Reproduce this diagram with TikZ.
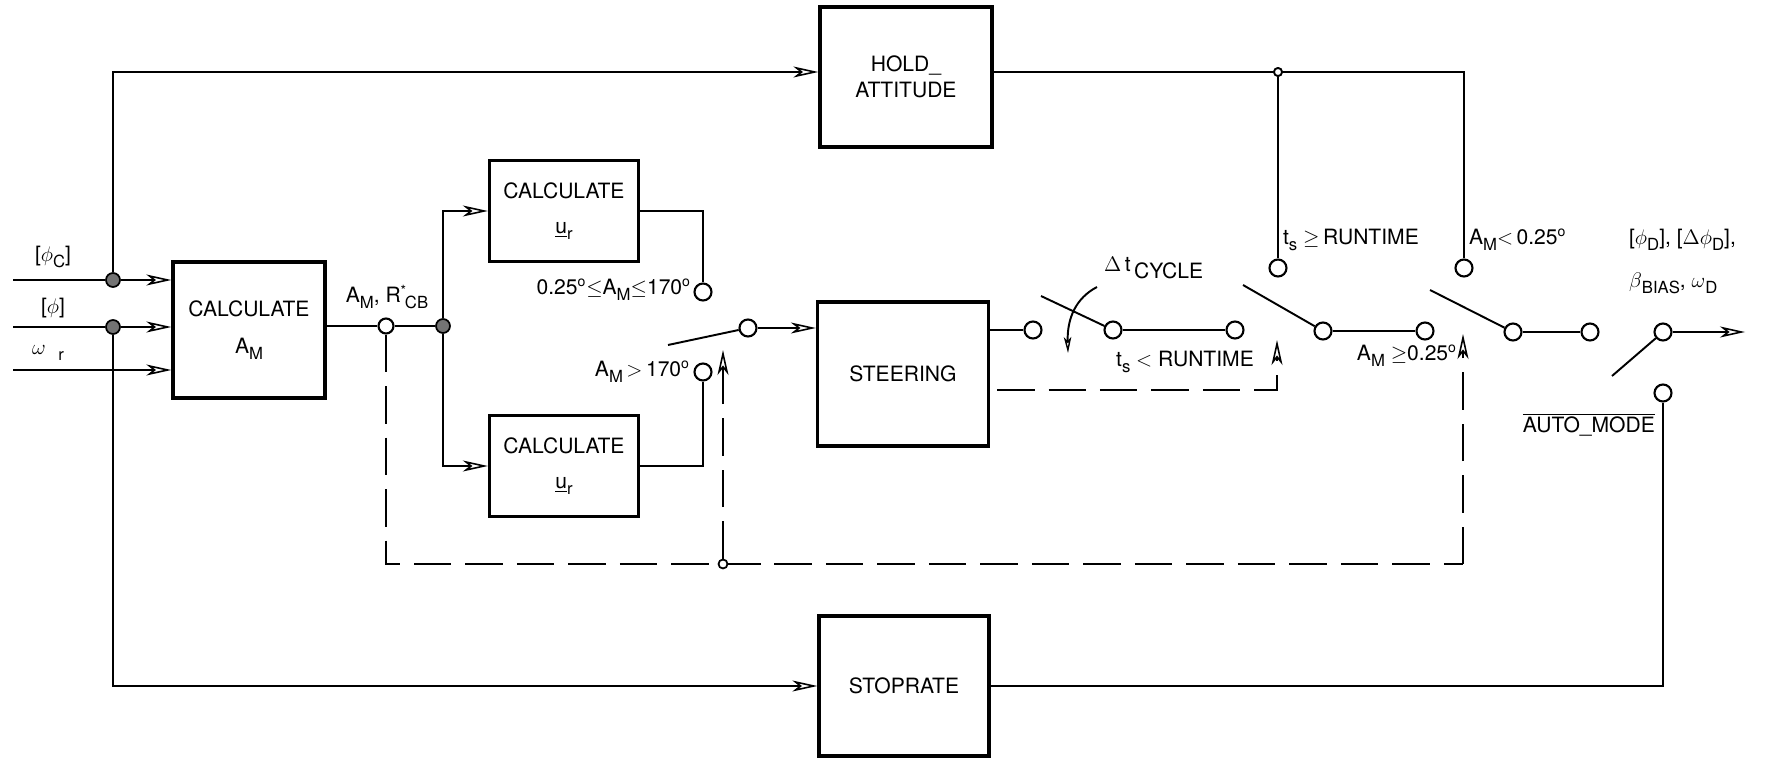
\documentclass[tikz,border=0pt]{standalone}
\usepackage{fontspec}
\setmainfont{TeX Gyre Heros}
\usetikzlibrary{arrows.meta}
\newcommand{\sbs}[1]{\raisebox{-0.55ex}{\fontsize{9.5}{10}\selectfont #1}}
\begin{document}
\begin{tikzpicture}[x=0.02cm, y=-0.02cm,
 blk/.style={draw, line width=1.9pt, align=center, inner sep=0pt, font=\fontsize{12}{15}\selectfont},
 ln/.style={line width=1.1pt},
 arr/.style={ln, -{Stealth[open, length=0.5cm, width=0.22cm, inset=0.14cm, line width=0.9pt]}},
 dsh/.style={ln, dash pattern=on 0.75cm off 0.28cm},
 swc/.style={circle, draw, fill=white, line width=1.2pt, inner sep=0pt, minimum size=0.34cm},
 jdot/.style={circle, draw, fill=black!55, line width=1pt, inner sep=0pt, minimum size=0.28cm},
 jo/.style={circle, draw, fill=white, line width=1pt, inner sep=0pt, minimum size=0.16cm},
 lbl/.style={inner sep=1pt, font=\fontsize{12}{14}\selectfont}]
\useasboundingbox (0,0) rectangle (1775,760);

% blocks
\node[blk, minimum width=3.04cm, minimum height=2.72cm] (cam) at (249,330) {CALCULATE\\[6pt]A\sbs{M}};
\node[blk, minimum width=2.98cm, minimum height=2.02cm] (cu1) at (564,211) {CALCULATE\\[5pt]\underline{u}\sbs{r}};
\node[blk, minimum width=2.98cm, minimum height=2.02cm] (cu2) at (564,466) {CALCULATE\\[5pt]\underline{u}\sbs{r}};
\node[blk, minimum width=3.42cm, minimum height=2.88cm] (steer) at (903,374) {STEERING};
\node[blk, minimum width=3.44cm, minimum height=2.8cm] (hold) at (906,77) {HOLD\_\\ATTITUDE};
\node[blk, minimum width=3.4cm, minimum height=2.8cm] (stop) at (904,686) {STOPRATE};

% inputs
\coordinate (in1) at (13,280);
\coordinate (in2) at (13,327);
\coordinate (in3) at (13,370);
\node[jdot] (j1) at (113,280) {};
\node[jdot] (j2) at (113,327) {};
\coordinate (tl) at (113,72);
\coordinate (bl) at (113,686);
\draw[ln] (in1) -- (j1);
\draw[arr] (j1) -- (j1 -| cam.west);
\draw[ln] (in2) -- (j2);
\draw[arr] (j2) -- (j2 -| cam.west);
\draw[arr] (in3) -- (in3 -| cam.west);
\draw[arr] (j1) -- (tl) -- (tl -| hold.west);
\draw[arr] (j2) -- (bl) -- (stop.west);

% A_M output and branches
\node[swc, minimum size=0.3cm] (oc) at (386,326) {};
\node[jdot] (j3) at (443,326) {};
\draw[ln] (cam.east |- oc) -- (oc);
\draw[ln] (oc) -- (j3);
\draw[arr] (j3) |- (cu1.west);
\draw[arr] (j3) |- (cu2.west);

% selector switch before steering
\node[swc] (c1) at (703,292) {};
\node[swc] (c2) at (703,372) {};
\draw[ln] (cu1.east) -| (c1);
\draw[ln] (cu2.east) -| (c2);
\node[swc] (s1) at (748,328) {};
\coordinate (lv1) at (668,345);
\draw[ln] (lv1) -- (s1);
\draw[arr] (s1) -- (s1 -| steer.west);

% delta t cycle switch
\node[swc] (s2a) at (1033,330) {};
\draw[ln] (s2a -| steer.east) -- (s2a);
\node[swc] (s2b) at (1113,330) {};
\coordinate (lv2) at (1041,296);
\draw[ln] (lv2) -- (s2b);
\node[swc] (s2c) at (1235,330) {};
\draw[ln] (s2b) -- (s2c);
\coordinate (ca1) at (1097,287);
\coordinate (ca2) at (1068,353);
\draw[ln, -{Stealth[open, length=0.32cm, width=0.15cm, inset=0.08cm, line width=0.8pt]}] (ca1) .. controls (1076,298) and (1067,318) .. (ca2);

% runtime switch
\node[swc] (s3a) at (1278,268) {};
\node[swc] (s3p) at (1323,331) {};
\coordinate (lv3) at (1243,285);
\draw[ln] (lv3) -- (s3p);
\node[swc] (s3c) at (1425,331) {};
\draw[ln] (s3p) -- (s3c);

% A_M < 0.25 switch
\node[swc] (s4a) at (1464,268) {};
\node[swc] (s4p) at (1513,332) {};
\coordinate (lv4) at (1430,290);
\draw[ln] (lv4) -- (s4p);
\node[swc] (s4c) at (1590,332) {};
\draw[ln] (s4p) -- (s4c);

% output switch
\node[swc] (s5p) at (1663,332) {};
\node[swc] (s5b) at (1663,393) {};
\coordinate (lv5) at (1612,376);
\draw[ln] (lv5) -- (s5p);
\coordinate (outE) at (1745,332);
\draw[arr] (s5p) -- (outE);
\draw[ln] (stop.east) -| (s5b);

% hold attitude output
\node[jo] (jt) at (1278,72) {};
\coordinate (tr) at (1464,72);
\draw[ln] (hold.east |- jt) -- (jt);
\draw[ln] (jt) -- (tr) -- (s4a);
\draw[ln] (jt) -- (s3a);
\node[jo] at (jt) {};

% dashed control lines
\coordinate (d1) at (386,564);
\coordinate (d2) at (1463,564);
\coordinate (d2t) at (1463,334);
\coordinate (jdc) at (723,564);
\coordinate (d3t) at (723,350);
\draw[dsh] (oc) -- (d1) -- (jdc);
\draw[dsh] (jdc) -- (d2);
\draw[dsh, arr] (d2) -- (d2t);
\node[jo, minimum size=0.18cm] (jd) at (jdc) {};
\draw[dsh, arr] (jd) -- (d3t);
\coordinate (d4) at (997,390);
\coordinate (d5) at (1277,390);
\coordinate (d5t) at (1277,340);
\draw[dsh, arr] (d4) -- (d5) -- (d5t);

% labels
\node[lbl] (lphic) at (53,257) {[$\phi$\sbs{C}]};
\node[lbl] (lphi) at (53,308) {[$\phi$]};
\node[lbl] (lom) at (48,353) {$\omega$\hspace{0.6em}\sbs{r}};
\node[lbl, inner sep=0pt] (lamr) at (387,297) {A\sbs{M}, R\textsuperscript{*}\hspace{-0.1em}\sbs{CB}};
\node[lbl, anchor=east] (l1) at (693,290) {0.25\textsuperscript{o}$\leq$A\sbs{M}$\leq$170\textsuperscript{o}};
\node[lbl, anchor=east] (l2) at (692,372) {A\sbs{M}\,$>$\,170\textsuperscript{o}};
\node[lbl, anchor=west] (l3) at (1102,268) {$\Delta$\,t\,\raisebox{-0.6ex}{CYCLE}};
\node[lbl] (l4) at (1185,362) {t\sbs{s} $<$ RUNTIME};
\node[lbl, anchor=west] (l5) at (1281,240) {t\sbs{s} $\geq$\,RUNTIME};
\node[lbl, anchor=west] (l6) at (1467,240) {A\sbs{M}$<$\,0.25\textsuperscript{o}};
\node[lbl, anchor=east] (l7) at (1459,356) {A\sbs{M} $\geq$0.25\textsuperscript{o}};
\node[lbl, anchor=west] (l8) at (1627,240) {[$\phi$\sbs{D}], [$\Delta\phi$\sbs{D}],};
\node[lbl, anchor=west] (l9) at (1627,283) {$\beta$\sbs{BIAS}, $\omega$\sbs{D}};
\node[lbl, anchor=east] (l10) at (1657,425) {$\overline{\mbox{AUTO\_MODE}}$};
\end{tikzpicture}
\end{document}
